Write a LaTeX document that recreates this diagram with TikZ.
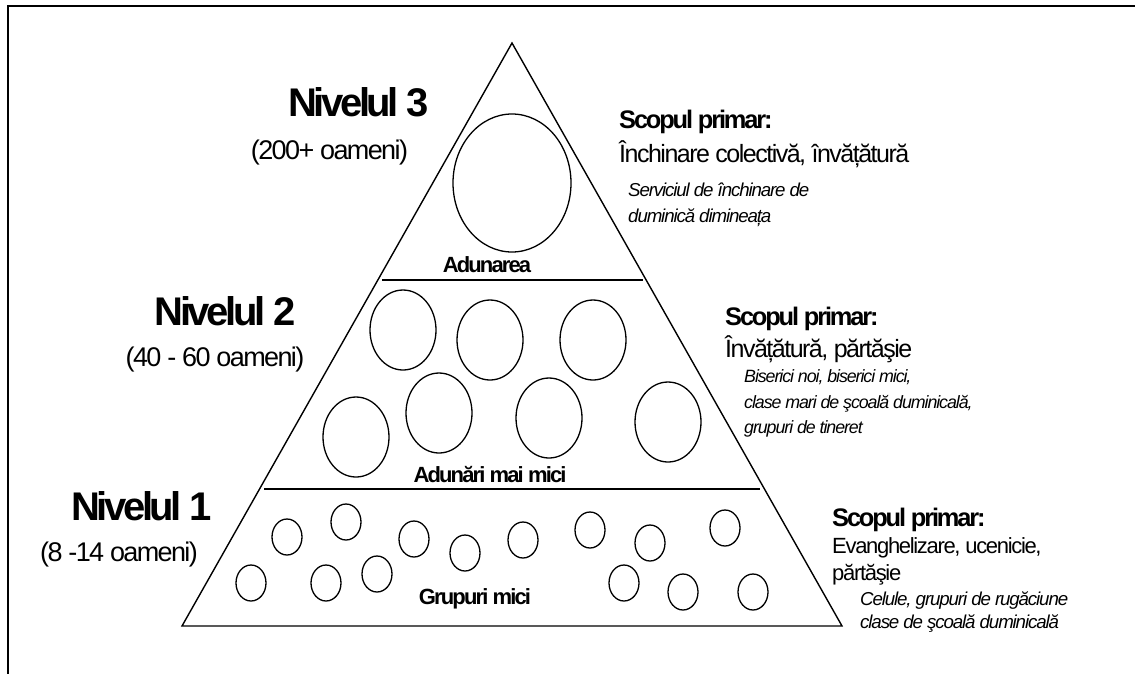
\documentclass[tikz,border=0pt]{standalone}
\usepackage{fontspec}
\setmainfont{Liberation Sans}
\newfontfamily\tightfont{Liberation Sans}[LetterSpace=-8.5]
\newfontfamily\lightfont{Liberation Sans}[LetterSpace=-6]
\tikzset{
  lvl/.style={inner sep=0, anchor=base, font=\tightfont\bfseries\fontsize{40}{48}\selectfont},
  cnt/.style={inner sep=0, anchor=base, font=\lightfont\fontsize{27}{32}\selectfont},
  head/.style={inner sep=0, anchor=base west, font=\tightfont\bfseries\fontsize{25.4}{30}\selectfont},
  goal/.style={inner sep=0, anchor=base west, font=\lightfont\fontsize{25}{30}\selectfont},
  goalsm/.style={inner sep=0, anchor=base west, font=\lightfont\fontsize{22}{27}\selectfont},
  ex/.style={inner sep=0, anchor=base west, font=\lightfont\itshape\fontsize{18.7}{26}\selectfont},
  tier/.style={inner sep=0, anchor=base, font=\tightfont\bfseries\fontsize{22}{26}\selectfont},
  grp/.style={line width=1.3pt},
  edge/.style={line width=1.4pt, line join=miter},
  divider/.style={line width=2.2pt},
  frame/.style={line width=2pt},
}
\begin{document}
\begin{tikzpicture}[x=1pt, y=-1pt]
\useasboundingbox (0,0) rectangle (1135,673);
% frame (top and left edges visible)
\coordinate (ftr) at (1136,6);
\coordinate (ftl) at (8,6);
\coordinate (fbl) at (8,674);
\draw[frame] (ftr) -- (ftl) -- (fbl);
% pyramid
\coordinate (apex) at (512,43);
\coordinate (br) at (842,626);
\coordinate (bl) at (182,626);
\draw[edge] (apex) -- (br) -- (bl) -- cycle;
\coordinate (d1l) at (382,280);
\coordinate (d1r) at (643,280);
\coordinate (d2l) at (264,489);
\coordinate (d2r) at (760,489);
\draw[divider] (d1l) -- (d1r);
\draw[divider] (d2l) -- (d2r);
% level 3 ellipse
\draw[grp] (512,183) ellipse [x radius=59, y radius=69];
% level 2 ellipses
\foreach \x/\y in {403/330, 490/340, 593/340, 356/437, 439/413, 549/418, 668/422}
  \draw[grp] (\x,\y) ellipse [x radius=33, y radius=40];
% level 1 circles
\foreach \x/\y in {287/537, 346/522, 414/539, 465/553, 523/540, 590/530, 650/543, 725/528,
                   251/583, 326/583, 377/574, 624/583, 683/592, 753/592}
  \draw[grp] (\x,\y) ellipse [x radius=15, y radius=18];
% tier names inside the pyramid
\node[tier] (t3) at (487,272) {Adunarea};
\node[tier] (t2) at (490,482) {Adunări mai mici};
\node[tier] (t1) at (475,604) {Grupuri mici};
% left labels
\node[lvl] (n3) at (358.5,116) {Nivelul 3};
\node[cnt] (c3) at (329.5,159) {(200+ oameni)};
\node[lvl] (n2) at (225,325) {Nivelul 2};
\node[cnt] (c2) at (215,366) {(40 - 60 oameni)};
\node[lvl] (n1) at (141.5,520) {Nivelul 1};
\node[cnt] (c1) at (119,561) {(8 -14 oameni)};
% right texts level 3
\node[head] (h3) at (619,128) {Scopul primar:};
\node[goal] (g3) at (619,162) {Închinare colectivă, învățătură};
\node[ex] (e3a) at (628,196) {Serviciul de închinare de};
\node[ex] (e3b) at (628,222) {duminică dimineața};
% right texts level 2
\node[head] (h2) at (725,325) {Scopul primar:};
\node[goal] (g2) at (725,357) {Învățătură, părtăşie};
\node[ex, font=\lightfont\itshape\fontsize{17.8}{25}\selectfont] (e2a) at (744,382) {Biserici noi, biserici mici,};
\node[ex, font=\lightfont\itshape\fontsize{17.8}{25}\selectfont] (e2b) at (744,408) {clase mari de şcoală duminicală,};
\node[ex, font=\lightfont\itshape\fontsize{17.8}{25}\selectfont] (e2c) at (744,433) {grupuri de tineret};
% right texts level 1
\node[head] (h1) at (832,526) {Scopul primar:};
\node[goalsm] (g1a) at (832,553) {Evanghelizare, ucenicie,};
\node[goalsm] (g1b) at (832,580) {părtăşie};
\node[ex] (e1a) at (860,605) {Celule, grupuri de rugăciune};
\node[ex] (e1b) at (860,628) {clase de şcoală duminicală};
\end{tikzpicture}
\end{document}
